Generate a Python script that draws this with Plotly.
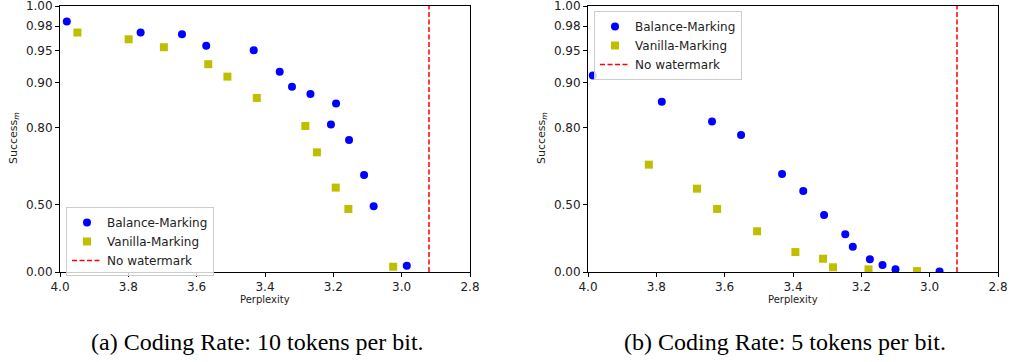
import numpy as np
import plotly.graph_objects as go

# ---- data -------------------------------------------------------------
# (a) coding rate 10 tokens per bit
a_balance_ppl = [3.980, 3.764, 3.643, 3.572, 3.433, 3.357, 3.321, 3.267,
                 3.192, 3.207, 3.154, 3.110, 3.082, 2.985]
a_balance_succ = [0.985, 0.973, 0.971, 0.957, 0.951, 0.919, 0.893, 0.879,
                  0.859, 0.809, 0.765, 0.641, 0.492, 0.060]
a_vanilla_ppl = [3.949, 3.799, 3.696, 3.566, 3.510, 3.424, 3.282, 3.248,
                 3.193, 3.156, 3.025]
a_vanilla_succ = [0.973, 0.965, 0.955, 0.931, 0.911, 0.871, 0.805, 0.726,
                  0.586, 0.477, 0.051]

# (b) coding rate 5 tokens per bit
b_balance_ppl = [3.986, 3.784, 3.637, 3.552, 3.432, 3.370, 3.309, 3.247,
                 3.225, 3.175, 3.138, 3.100, 2.971]
b_balance_succ = [0.913, 0.863, 0.817, 0.780, 0.645, 0.570, 0.442, 0.317,
                  0.224, 0.119, 0.067, 0.026, 0.006]
b_vanilla_ppl = [3.822, 3.681, 3.622, 3.505, 3.393, 3.312, 3.283, 3.179,
                 3.037]
b_vanilla_succ = [0.682, 0.581, 0.477, 0.338, 0.181, 0.124, 0.046, 0.026,
                  0.009]

no_watermark_ppl = 2.92

x_ticks = [4.0, 3.8, 3.6, 3.4, 3.2, 3.0, 2.8]
y_ticks = [0.00, 0.50, 0.80, 0.90, 0.95, 0.98, 1.00]
y_tick_labels = ["0.00", "0.50", "0.80", "0.90", "0.95", "0.98", "1.00"]

captions = ["(a) Coding Rate: 10 tokens per bit.",
            "(b) Coding Rate: 5 tokens per bit."]


# ---- custom y scale: stretches the region near 1.0 --------------------
def success_scale(v):
    v = np.asarray(v, dtype=float)
    return np.log(1.1 / (1.1 - v)) / np.log(11.0)


# ---- figure -------------------------------------------------------------
W, H = 1010, 362
BLUE, YELLOW, RED = "#0000ff", "#bfbf00", "#ff0000"
FONT = "DejaVu Sans"

fig = go.Figure()

panels = [
    (a_balance_ppl, a_balance_succ, a_vanilla_ppl, a_vanilla_succ, "x", "y", "legend"),
    (b_balance_ppl, b_balance_succ, b_vanilla_ppl, b_vanilla_succ, "x2", "y2", "legend2"),
]

for bp, bs, vp, vs, xa, ya, lg in panels:
    fig.add_trace(go.Scatter(
        x=bp, y=success_scale(bs), mode="markers", name="Balance-Marking",
        marker=dict(symbol="circle", size=8, color=BLUE),
        xaxis=xa, yaxis=ya, legend=lg))
    fig.add_trace(go.Scatter(
        x=vp, y=success_scale(vs), mode="markers", name="Vanilla-Marking",
        marker=dict(symbol="square", size=8, color=YELLOW),
        xaxis=xa, yaxis=ya, legend=lg))
    fig.add_trace(go.Scatter(
        x=[no_watermark_ppl, no_watermark_ppl],
        y=success_scale([0.0, 1.0]), mode="lines", name="No watermark",
        line=dict(color=RED, width=1.5, dash="5px,2.5px"),
        xaxis=xa, yaxis=ya, legend=lg))


def px_x(p):
    return p / W


def px_y(p):
    return 1 - p / H


plot_top, plot_bottom = 6, 272
x_domains = [(60, 470), (588, 998)]

axis_common = dict(
    showline=True, linecolor="black", linewidth=1, mirror=True,
    ticks="outside", ticklen=4, tickwidth=1, tickcolor="black",
    showgrid=False, zeroline=False, automargin=False,
    ticklabeloverflow="allow",
    tickfont=dict(family=FONT, size=12, color="#222222"),
)

for i, (x0, x1) in enumerate(x_domains):
    sfx = "" if i == 0 else str(i + 1)
    fig.update_layout(**{
        "xaxis" + sfx: dict(
            domain=[px_x(x0), px_x(x1)], anchor="y" + sfx,
            range=[4.0, 2.8], tickvals=x_ticks,
            ticktext=[f"{t:.1f}" for t in x_ticks], **axis_common),
        "yaxis" + sfx: dict(
            domain=[px_y(plot_bottom), px_y(plot_top)], anchor="x" + sfx,
            range=[0, 1], tickvals=list(success_scale(y_ticks)),
            ticktext=y_tick_labels, **axis_common),
    })

annotations = []
caption_centers = [257, 785]
for i, (x0, x1) in enumerate(x_domains):
    annotations.append(dict(
        text="Perplexity", x=px_x((x0 + x1) / 2), y=px_y(299),
        xref="paper", yref="paper", showarrow=False,
        xanchor="center", yanchor="middle",
        font=dict(family=FONT, size=10, color="#222222")))
    annotations.append(dict(
        text="Success<sub><i>m</i></sub>", x=px_x(x0 - 46), y=px_y(138),
        xref="paper", yref="paper", showarrow=False, textangle=-90,
        xanchor="center", yanchor="middle",
        font=dict(family=FONT, size=11, color="#222222")))
    annotations.append(dict(
        text=captions[i], x=px_x(caption_centers[i]), y=px_y(342),
        xref="paper", yref="paper", showarrow=False,
        xanchor="center", yanchor="middle",
        font=dict(family="Liberation Serif", size=24, color="black")))

legend_common = dict(
    bgcolor="rgba(255,255,255,0.8)", bordercolor="#cccccc", borderwidth=1,
    font=dict(family=FONT, size=12, color="#222222"),
    xanchor="left", yanchor="top",
)

fig.update_layout(
    width=W, height=H,
    margin=dict(l=0, r=0, t=0, b=0),
    paper_bgcolor="white", plot_bgcolor="white",
    showlegend=True,
    legend=dict(x=px_x(66), y=px_y(207), **legend_common),
    legend2=dict(x=px_x(594), y=px_y(11), **legend_common),
    annotations=annotations,
    font=dict(family=FONT),
)

fig.write_html("out.html")
